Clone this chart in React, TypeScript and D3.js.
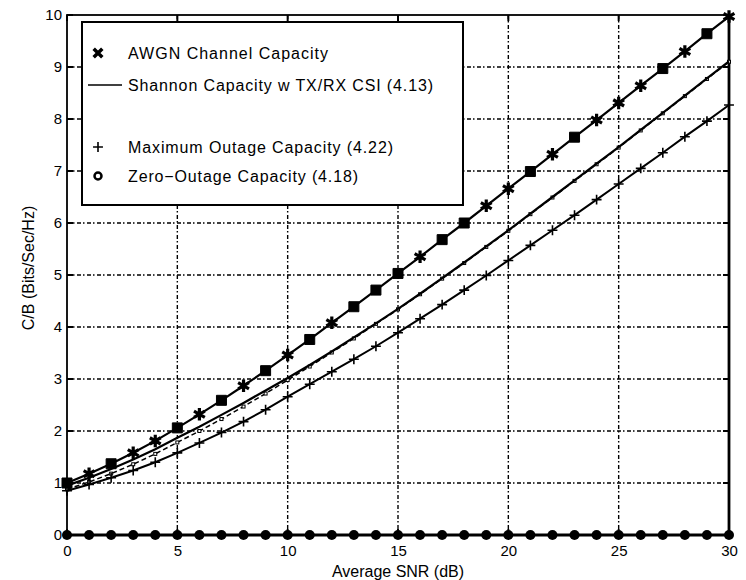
import React, { useEffect, useRef } from "react";
import * as d3 from "d3";

// average SNR in dB
const snrDb = [0, 1, 2, 3, 4, 5, 6, 7, 8, 9, 10, 11, 12, 13, 14, 15, 16, 17, 18, 19, 20, 21, 22, 23, 24, 25, 26, 27, 28, 29, 30];

// AWGN channel capacity
const awgn = [1.0, 1.18, 1.37, 1.58, 1.81, 2.06, 2.32, 2.59, 2.87, 3.16, 3.46, 3.76, 4.08, 4.39, 4.71, 5.03, 5.35, 5.68, 6.0, 6.33, 6.66, 6.99, 7.32, 7.65, 7.98, 8.31, 8.64, 8.97, 9.3, 9.64, 9.97];
// marker drawn at each AWGN point (the plot mixes squares and stars)
const awgnMarks = ["sq", "st", "sq", "st", "st", "sq", "st", "sq", "st", "sq", "st", "sq", "st", "sq", "sq", "sq", "st", "sq", "sq", "st", "st", "sq", "st", "sq", "st", "st", "st", "sq", "st", "sq", "st"];

// Shannon capacity w TX/RX CSI
const shannonTxRx = [0.95, 1.1, 1.27, 1.45, 1.65, 1.87, 2.08, 2.31, 2.54, 2.78, 3.02, 3.27, 3.53, 3.8, 4.07, 4.35, 4.64, 4.94, 5.24, 5.55, 5.86, 6.18, 6.5, 6.82, 7.14, 7.46, 7.79, 8.12, 8.45, 8.78, 9.11];
// dashed curve (no legend label)
const shannonRx = [0.88, 1.02, 1.18, 1.36, 1.56, 1.78, 2.0, 2.23, 2.47, 2.72, 2.98, 3.24, 3.51, 3.78, 4.06, 4.34, 4.63, 4.93, 5.23, 5.54, 5.85, 6.17, 6.49, 6.81, 7.13, 7.45, 7.78, 8.11, 8.44, 8.77, 9.1];
// maximum outage capacity
const maxOutage = [0.85, 0.97, 1.1, 1.24, 1.4, 1.58, 1.77, 1.97, 2.18, 2.41, 2.66, 2.9, 3.14, 3.38, 3.63, 3.89, 4.16, 4.43, 4.71, 4.99, 5.28, 5.57, 5.86, 6.15, 6.45, 6.75, 7.05, 7.35, 7.66, 7.96, 8.27];
// zero-outage capacity
const zeroOutage = [0, 0, 0, 0, 0, 0, 0, 0, 0, 0, 0, 0, 0, 0, 0, 0, 0, 0, 0, 0, 0, 0, 0, 0, 0, 0, 0, 0, 0, 0, 0];

const xTicks = [0, 5, 10, 15, 20, 25, 30];
const yTicks = [0, 1, 2, 3, 4, 5, 6, 7, 8, 9, 10];

const legendLabels = [
  "AWGN Channel Capacity",
  "Shannon Capacity w TX/RX CSI (4.13)",
  "Maximum Outage Capacity (4.22)",
  "Zero\u2212Outage Capacity (4.18)",
];

const W = 746;
const H = 580;
const FONT = "'Liberation Sans', Arial, Helvetica, sans-serif";

export default function App() {
  const ref = useRef<SVGSVGElement>(null);

  useEffect(() => {
    const margin = { top: 15, right: 17, bottom: 45, left: 67 };
    const width = W - margin.left - margin.right;
    const height = H - margin.top - margin.bottom;

    const root = d3.select(ref.current);
    root.selectAll("*").remove();
    const svg = root.append("g").attr("transform", "translate(" + margin.left + "," + margin.top + ")");

    const x = d3.scaleLinear().domain([0, 30]).range([0, width]);
    const y = d3.scaleLinear().domain([0, 10]).range([height, 0]);

    // grid
    const dash = "4,2,1.5,2.5";
    svg
      .selectAll(".vgrid")
      .data(xTicks.slice(1, -1))
      .enter()
      .append("line")
      .attr("x1", (d) => x(d))
      .attr("x2", (d) => x(d))
      .attr("y1", 0)
      .attr("y2", height)
      .attr("stroke", "#000")
      .attr("stroke-width", 1.4)
      .attr("stroke-dasharray", dash);
    svg
      .selectAll(".hgrid")
      .data(yTicks.slice(1, -1))
      .enter()
      .append("line")
      .attr("x1", 0)
      .attr("x2", width)
      .attr("y1", (d) => y(d))
      .attr("y2", (d) => y(d))
      .attr("stroke", "#000")
      .attr("stroke-width", 1.4)
      .attr("stroke-dasharray", dash);

    // axes
    const xAxis = svg
      .append("g")
      .attr("transform", "translate(0," + height + ")")
      .call(d3.axisBottom(x).tickValues(xTicks).tickSize(0).tickPadding(10));
    const yAxis = svg.append("g").call(d3.axisLeft(y).tickValues(yTicks).tickSize(0).tickPadding(5));
    [xAxis, yAxis].forEach((a) => {
      a.select(".domain").remove();
      a.selectAll("text").attr("font-family", FONT).attr("font-size", 15).attr("fill", "#000");
    });

    // inward ticks on all four sides
    const tickLen = 6;
    xTicks.forEach((t) => {
      svg.append("line").attr("x1", x(t)).attr("x2", x(t)).attr("y1", height).attr("y2", height - tickLen).attr("stroke", "#000").attr("stroke-width", 2);
      svg.append("line").attr("x1", x(t)).attr("x2", x(t)).attr("y1", 0).attr("y2", tickLen).attr("stroke", "#000").attr("stroke-width", 2);
    });
    yTicks.forEach((t) => {
      svg.append("line").attr("x1", 0).attr("x2", tickLen).attr("y1", y(t)).attr("y2", y(t)).attr("stroke", "#000").attr("stroke-width", 2);
      svg.append("line").attr("x1", width).attr("x2", width - tickLen).attr("y1", y(t)).attr("y2", y(t)).attr("stroke", "#000").attr("stroke-width", 2);
    });

    // frame
    svg.append("rect").attr("width", width).attr("height", height).attr("fill", "none").attr("stroke", "#000").attr("stroke-width", 1.8);
    svg.append("line").attr("x1", width).attr("x2", width).attr("y1", 0).attr("y2", height).attr("stroke", "#000").attr("stroke-width", 2.8);

    const line = d3
      .line<number>()
      .x((d, i) => x(snrDb[i]))
      .y((d) => y(d));

    // dashed curve with small open squares
    svg.append("path").datum(shannonRx).attr("fill", "none").attr("stroke", "#000").attr("stroke-width", 1.5).attr("stroke-dasharray", "5,3").attr("d", line);
    svg
      .selectAll(".rxm")
      .data(shannonRx)
      .enter()
      .append("rect")
      .attr("x", (d, i) => x(snrDb[i]) - 1.5)
      .attr("y", (d) => y(d) - 1.5)
      .attr("width", 3)
      .attr("height", 3)
      .attr("fill", "#fff")
      .attr("stroke", "#000")
      .attr("stroke-width", 1);

    // max outage
    svg.append("path").datum(maxOutage).attr("fill", "none").attr("stroke", "#000").attr("stroke-width", 2).attr("d", line);
    svg
      .selectAll(".outm")
      .data(maxOutage)
      .enter()
      .append("path")
      .attr("transform", (d, i) => "translate(" + x(snrDb[i]) + "," + y(d) + ")")
      .attr("d", d3.symbol(d3.symbolPlus, 34)())
      .attr("fill", "none")
      .attr("stroke", "#000")
      .attr("stroke-width", 1.6);

    // TX/RX CSI
    svg.append("path").datum(shannonTxRx).attr("fill", "none").attr("stroke", "#000").attr("stroke-width", 2.2).attr("d", line);

    // AWGN
    svg.append("path").datum(awgn).attr("fill", "none").attr("stroke", "#000").attr("stroke-width", 2.2).attr("d", line);
    svg
      .selectAll(".awm")
      .data(awgn)
      .enter()
      .append("path")
      .attr("transform", (d, i) => "translate(" + x(snrDb[i]) + "," + y(d) + ")")
      .attr("d", (d, i) => (awgnMarks[i] === "sq" ? d3.symbol(d3.symbolSquare, 100)() : d3.symbol(d3.symbolAsterisk, 110)()))
      .attr("fill", "#000")
      .attr("stroke", "#000")
      .attr("stroke-width", (d, i) => (awgnMarks[i] === "sq" ? 1 : 3.2));

    // zero outage
    svg.append("path").datum(zeroOutage).attr("fill", "none").attr("stroke", "#000").attr("stroke-width", 3).attr("d", line);
    svg
      .selectAll(".zom")
      .data(zeroOutage)
      .enter()
      .append("circle")
      .attr("cx", (d, i) => x(snrDb[i]))
      .attr("cy", (d) => y(d))
      .attr("r", 5)
      .attr("fill", "#000");

    // axis titles
    svg
      .append("text")
      .attr("x", width / 2)
      .attr("y", height + 42)
      .attr("text-anchor", "middle")
      .attr("font-family", FONT)
      .attr("font-size", 16)
      .text("Average SNR (dB)");
    root
      .append("text")
      .attr("transform", "translate(34,268) rotate(-90)")
      .attr("text-anchor", "middle")
      .attr("font-family", FONT)
      .attr("font-size", 16)
      .text("C/B (Bits/Sec/Hz)");

    // legend
    const lg = root.append("g");
    lg.append("rect").attr("x", 82).attr("y", 22).attr("width", 381).attr("height", 183).attr("fill", "#fff").attr("stroke", "#000").attr("stroke-width", 2);
    const rowY = [53, 85, 147, 176];
    const textW = [200, 305, 265, 230];
    legendLabels.forEach((label, i) => {
      lg.append("text")
        .attr("x", 128)
        .attr("y", rowY[i])
        .attr("dy", "0.35em")
        .attr("font-family", FONT)
        .attr("font-size", 16)
        .attr("textLength", textW[i])
        .attr("lengthAdjust", "spacing")
        .text(label);
    });
    lg.append("path").attr("transform", "translate(98," + rowY[0] + ")").attr("d", d3.symbol(d3.symbolTimes, 50)()).attr("stroke", "#000").attr("stroke-width", 3.5);
    lg.append("line").attr("x1", 88).attr("x2", 122).attr("y1", rowY[1]).attr("y2", rowY[1]).attr("stroke", "#000").attr("stroke-width", 1.5);
    lg.append("path").attr("transform", "translate(98," + rowY[2] + ")").attr("d", d3.symbol(d3.symbolPlus, 34)()).attr("fill", "none").attr("stroke", "#000").attr("stroke-width", 1.6);
    lg.append("circle").attr("cx", 98).attr("cy", rowY[3]).attr("r", 3.5).attr("fill", "#fff").attr("stroke", "#000").attr("stroke-width", 2.5);
  }, []);

  return <svg ref={ref} width={W} height={H} style={{ position: "absolute", left: 0, top: 0, background: "#fff" }} />;
}
